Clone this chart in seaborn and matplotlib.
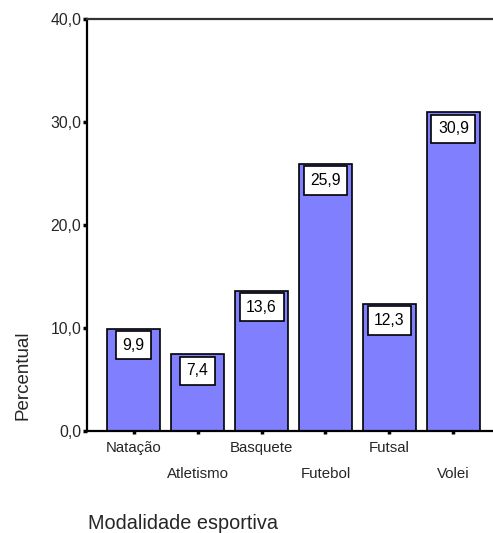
import matplotlib
matplotlib.use("Agg")
import matplotlib.pyplot as plt
from matplotlib.transforms import ScaledTranslation
import seaborn as sns
import pandas as pd

modalidades = ["Natação", "Atletismo", "Basquete", "Futebol", "Futsal", "Volei"]
percentual = [9.9, 7.4, 13.6, 25.9, 12.3, 30.9]
y_ticks = [0, 10, 20, 30, 40]
y_tick_labels = ["0,0", "10,0", "20,0", "30,0", "40,0"]

df = pd.DataFrame({"Modalidade": modalidades, "Percentual": percentual})

sns.set_theme(style="white")
plt.rcParams["font.family"] = ["Liberation Sans", "DejaVu Sans"]

fig = plt.figure(figsize=(4.93, 5.33), dpi=100)
ax = fig.add_axes([0.1765, 0.192, 0.8235, 0.773])

sns.barplot(data=df, x="Modalidade", y="Percentual", color="#8080FF",
            saturation=1, width=0.83, edgecolor="black", linewidth=1.2, ax=ax)

ax.set_ylim(0, 40)
ax.set_xlim(-0.73, 5.62)
ax.set_yticks(y_ticks)
ax.set_yticklabels(y_tick_labels, fontsize=11.3)
ax.tick_params(axis="y", direction="out", length=3, width=2.5, color="black",
               left=True, pad=1)
ax.tick_params(axis="x", direction="out", length=2.5, width=2.5, color="black",
               bottom=True, pad=5, labelsize=10.8)

# Alternate the category labels on two rows
for i, lbl in enumerate(ax.get_xticklabels()):
    if i % 2 == 1:
        lbl.set_transform(lbl.get_transform() +
                          ScaledTranslation(0, -0.255, fig.dpi_scale_trans))

ax.spines["right"].set_visible(False)
ax.spines["top"].set_color("#333333")
ax.spines["top"].set_linewidth(1.6)
for side in ["left", "bottom"]:
    ax.spines[side].set_color("black")
    ax.spines[side].set_linewidth(1.6)

# Value boxes inside the top of each bar
for i, v in enumerate(percentual):
    ax.annotate(f"{v:.1f}".replace(".", ","), xy=(i, v), xytext=(0, -6.5),
                textcoords="offset points", ha="center", va="top",
                fontsize=11.3, color="black",
                bbox=dict(boxstyle="square,pad=0.42", fc="white",
                          ec="black", lw=1.2))

ax.set_xlabel("")
ax.set_ylabel("")
fig.text(88 / 493, 0.008, "Modalidade esportiva", fontsize=14.3, ha="left",
         va="baseline")
fig.text(23.5 / 493, 1 - 375 / 533, "Percentual", fontsize=13.5, rotation=90,
         ha="center", va="center")

fig.savefig("out.png", dpi=100)
